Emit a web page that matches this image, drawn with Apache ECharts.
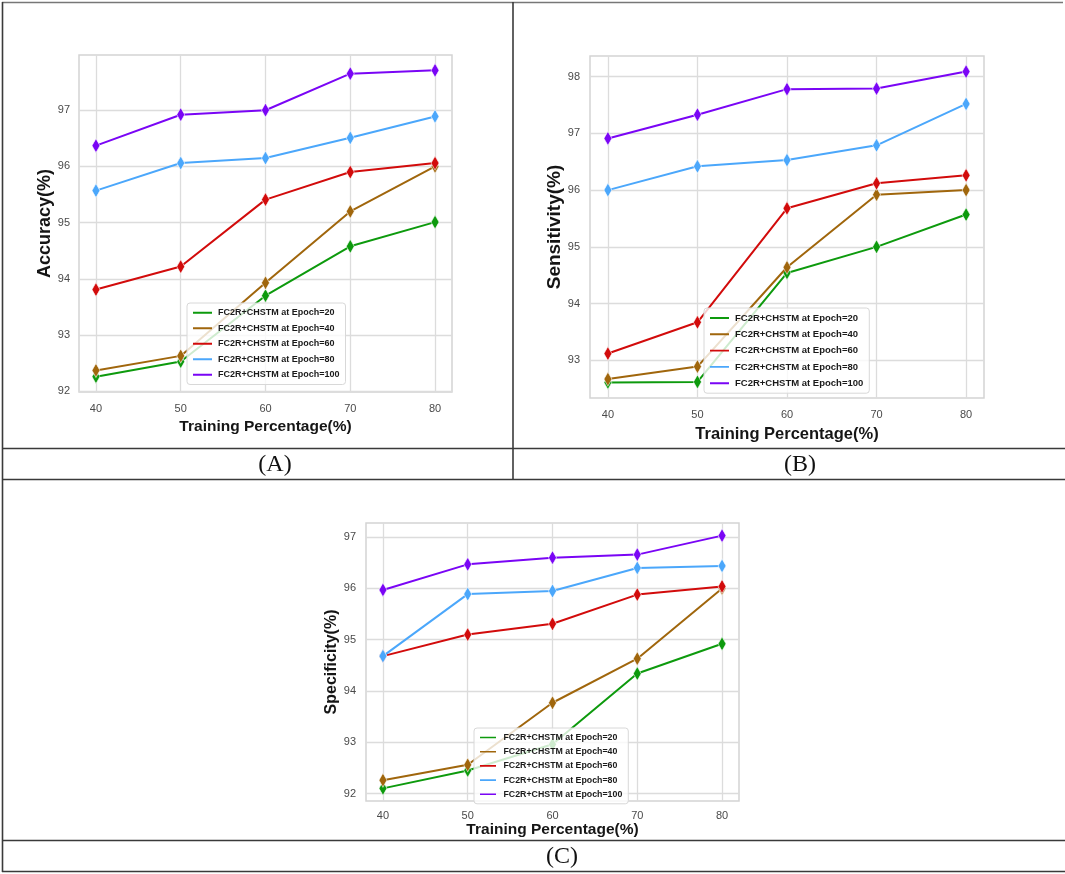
<!DOCTYPE html>
<html>
<head>
<meta charset="utf-8">
<title>FC2R+CHSTM performance</title>
<script src="https://cdn.jsdelivr.net/npm/echarts@6/dist/echarts.min.js"></script>
<style>
    html, body { margin: 0; padding: 0; background: #fff; }
    #chart { width: 1065px; height: 874px; }
</style>
</head>
<body>
<div id="chart"></div>
<script>
// training percentage on the x axis
var trainingPct = [40, 50, 60, 70, 80];
var xTicks = [40, 50, 60, 70, 80];
var seriesNames = [
    'FC2R+CHSTM at Epoch=20',
    'FC2R+CHSTM at Epoch=40',
    'FC2R+CHSTM at Epoch=60',
    'FC2R+CHSTM at Epoch=80',
    'FC2R+CHSTM at Epoch=100'
];
var seriesColors = ['#0d9a0d', '#a0660c', '#d20b0b', '#4ba7fb', '#7a05f5'];

// (A) accuracy
var acc20 = [92.26, 92.53, 93.70, 94.58, 95.01];
var acc40 = [92.37, 92.63, 93.93, 95.20, 96.00];
var acc60 = [93.81, 94.22, 95.41, 95.90, 96.06];
var acc80 = [95.57, 96.06, 96.15, 96.51, 96.89];
var acc100 = [96.37, 96.92, 97.00, 97.65, 97.71];
var accTicks = [92, 93, 94, 95, 96, 97];

// (B) sensitivity
var sen20 = [92.61, 92.62, 94.54, 95.00, 95.57];
var sen40 = [92.67, 92.89, 94.64, 95.92, 96.00];
var sen60 = [93.12, 93.67, 95.68, 96.12, 96.26];
var sen80 = [96.00, 96.42, 96.53, 96.79, 97.52];
var sen100 = [96.91, 97.33, 97.78, 97.79, 98.09];
var senTicks = [93, 94, 95, 96, 97, 98];

// (C) specificity
var spe20 = [92.10, 92.45, 92.96, 94.34, 94.92];
var spe40 = [92.26, 92.56, 93.77, 94.63, 96.00];
var spe60 = [94.68, 95.10, 95.31, 95.88, 96.04];
var spe80 = [94.68, 95.89, 95.95, 96.40, 96.44];
var spe100 = [95.97, 96.47, 96.60, 96.66, 97.03];
var speTicks = [92, 93, 94, 95, 96, 97];

var FONT = '"Liberation Sans", Arial, sans-serif';
var LINE_ICON = 'path://M0,0L1,0M0,4L20,4L20,6L0,6ZM0,10L1,10';

// matplotlib-like 5% margins
function padExtent(values) {
    var lo = Math.min.apply(null, values), hi = Math.max.apply(null, values);
    var m = (hi - lo) * 0.05;
    return [lo - m, hi + m];
}

var panels = [
    {
        grid: { left: 79, top: 55, width: 373, height: 337 },
        yName: 'Accuracy(%)', yNameSize: 18, xNameSize: 15.5,
        yNameGap: 24, xNameGap: 27, yLabelMargin: 9, xLabelMargin: 11,
        data: [acc20, acc40, acc60, acc80, acc100], yTicks: accTicks,
        legend: { left: 187, top: 303, fontSize: 9, itemHeight: 10, itemGap: 6 }
    },
    {
        grid: { left: 590, top: 56, width: 394, height: 342 },
        yName: 'Sensitivity(%)', yNameSize: 19, xNameSize: 16.5,
        yNameGap: 25, xNameGap: 28, yLabelMargin: 10, xLabelMargin: 11,
        data: [sen20, sen40, sen60, sen80, sen100], yTicks: senTicks,
        legend: { left: 704, top: 308, fontSize: 9.5, itemHeight: 10, itemGap: 6.3 }
    },
    {
        grid: { left: 366, top: 523, width: 373, height: 278 },
        yName: 'Specificity(%)', yNameSize: 16, xNameSize: 15.5,
        yNameGap: 24, xNameGap: 21, yLabelMargin: 10, xLabelMargin: 9,
        data: [spe20, spe40, spe60, spe80, spe100], yTicks: speTicks,
        legend: { left: 474, top: 728, fontSize: 8.8, itemHeight: 8, itemGap: 5.2 }
    }
];

var option = {
    animation: false,
    backgroundColor: '#fff',
    grid: [], xAxis: [], yAxis: [], legend: [], series: [],
    graphic: []
};

panels.forEach(function (p, i) {
    var all = [].concat.apply([], p.data);
    var yExt = padExtent(all);
    var xExt = padExtent(trainingPct);

    option.grid.push({
        left: p.grid.left, top: p.grid.top, width: p.grid.width, height: p.grid.height,
        show: true, borderColor: '#d4d4d4', borderWidth: 1.5, containLabel: false
    });
    option.xAxis.push({
        type: 'value', gridIndex: i, min: xExt[0], max: xExt[1],
        name: 'Training Percentage(%)', nameLocation: 'middle', nameGap: p.xNameGap,
        nameTextStyle: { fontFamily: FONT, fontWeight: 'bold', fontSize: p.xNameSize, color: '#151515' },
        axisLine: { show: false },
        axisTick: { show: false, customValues: xTicks },
        axisLabel: { customValues: xTicks, margin: p.xLabelMargin, fontFamily: FONT, fontSize: 11, color: '#4a4a4a' },
        splitLine: { show: true, lineStyle: { color: '#dcdcdc', width: 1.3 } }
    });
    option.yAxis.push({
        type: 'value', gridIndex: i, min: yExt[0], max: yExt[1],
        name: p.yName, nameLocation: 'middle', nameGap: p.yNameGap,
        nameTextStyle: { fontFamily: FONT, fontWeight: 'bold', fontSize: p.yNameSize, color: '#151515' },
        axisLine: { show: false },
        axisTick: { show: false, customValues: p.yTicks },
        axisLabel: { customValues: p.yTicks, margin: p.yLabelMargin, fontFamily: FONT, fontSize: 11, color: '#4a4a4a' },
        splitLine: { show: true, lineStyle: { color: '#dcdcdc', width: 1.3 } }
    });
    option.legend.push({
        orient: 'vertical', left: p.legend.left, top: p.legend.top,
        data: seriesNames, icon: LINE_ICON,
        itemWidth: 19, itemHeight: p.legend.itemHeight, itemGap: p.legend.itemGap,
        padding: [5, 6, 5, 6],
        backgroundColor: 'rgba(255,255,255,0.8)', borderColor: '#d8d8d8', borderWidth: 1, borderRadius: 3,
        itemStyle: { borderWidth: 0 },
        textStyle: { fontFamily: FONT, fontWeight: 'bold', fontSize: p.legend.fontSize, color: '#1a1a1a', padding: [0, 0, 0, 1] },
        selectedMode: false
    });
    p.data.forEach(function (vals, k) {
        option.series.push({
            name: seriesNames[k], type: 'line', xAxisIndex: i, yAxisIndex: i,
            data: trainingPct.map(function (x, j) { return [x, vals[j]]; }),
            symbol: 'diamond', symbolSize: [8, 14],
            lineStyle: { width: 2, color: seriesColors[k] },
            itemStyle: { color: seriesColors[k], borderColor: 'rgba(255,255,255,0.7)', borderWidth: 0.8 },
            z: 2 + k * 0.01
        });
    });
});

// table borders and captions round the three panels
function rule(x1, y1, x2, y2, color) {
    return {
        type: 'line', silent: true, z: 10,
        shape: { x1: x1, y1: y1, x2: x2, y2: y2 },
        style: { stroke: color || '#3a3a3a', lineWidth: 1.6 }
    };
}
function caption(text, x, y) {
    return {
        type: 'text', silent: true, x: x, y: y, z: 10,
        style: { text: text, font: '24px "Liberation Serif", "Times New Roman", serif', fill: '#111', align: 'center', verticalAlign: 'middle' }
    };
}
option.graphic = [
    rule(2, 2.5, 1063, 2.5, '#777'),
    rule(2.5, 2, 2.5, 872),
    rule(513, 2, 513, 479),
    rule(2, 448.5, 1065, 448.5),
    rule(2, 479.5, 1065, 479.5),
    rule(2, 840.5, 1065, 840.5),
    rule(2, 871.5, 1065, 871.5),
    caption('(A)', 275, 465),
    caption('(B)', 800, 465),
    caption('(C)', 562, 857)
];

var chart = echarts.init(document.getElementById('chart'));
chart.setOption(option);
</script>
</body>
</html>
